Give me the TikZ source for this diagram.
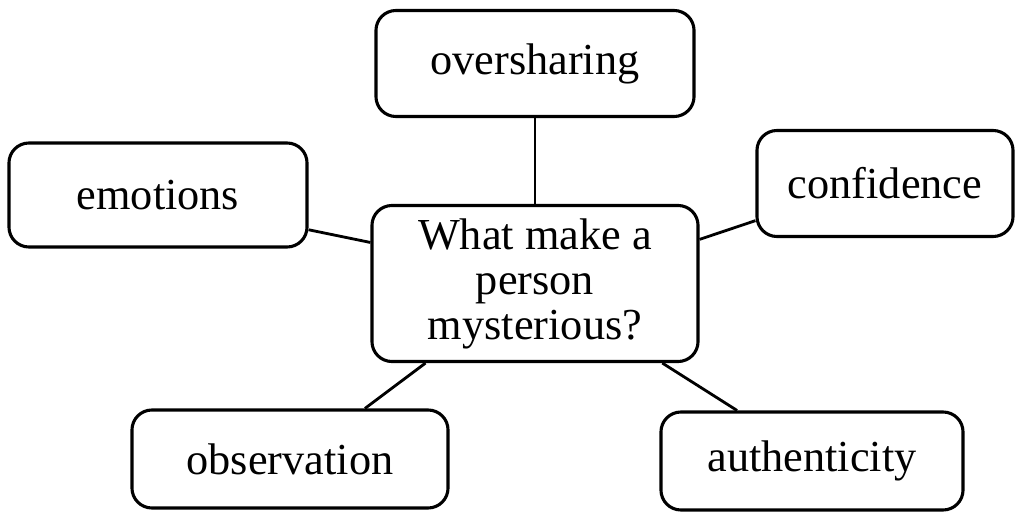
\documentclass[tikz,border=0pt]{standalone}
\usepackage{fontspec}
\setmainfont{Liberation Serif}
\usepackage{tikz}
\usetikzlibrary{positioning}
\tikzset{
      mybox/.style 2 args={
        draw=black,
        line width=2.2pt,
        rounded corners=0.5cm,
        align=center,
        inner sep=0pt,
        font=\fontsize{31.5}{32}\selectfont,
        minimum width=#1,
        minimum height=#2
      },
      myline/.style={
        draw=black,
        line width=2pt
      },
    }
\begin{document}
\begin{tikzpicture}[x=0.025cm,y=-0.025cm]
          \useasboundingbox (0,0) rectangle (1022,513);

          \node[mybox={8.15cm}{3.9cm}]
            (question) at (535,283.5)
            {What make a\\person\\mysterious?};
          \node[mybox={7.95cm}{2.65cm}]
            (oversharing) at (535,63.5)
            {oversharing};
          \node[mybox={7.45cm}{2.6cm}]
            (emotions) at (158,195)
            {emotions};
          \node[mybox={6.4cm}{2.65cm}]
            (confidence) at (885,183.5)
            {confidence};
          \node[mybox={7.9cm}{2.45cm}]
            (observation) at (290,459)
            {observation};
          \node[mybox={7.55cm}{2.45cm}]
            (authenticity) at (812,461)
            {authenticity};

          \draw[myline] (oversharing.south) -- (question.north);
          \draw[myline] (emotions.-13) -- (question.166.7);
          \draw[myline] (confidence.-164) -- (question.15.9);
          \draw[myline] (observation.34.2) -- (question.216);
          \draw[myline] (authenticity.146.8) -- (question.-32.5);
        \end{tikzpicture}
\end{document}
